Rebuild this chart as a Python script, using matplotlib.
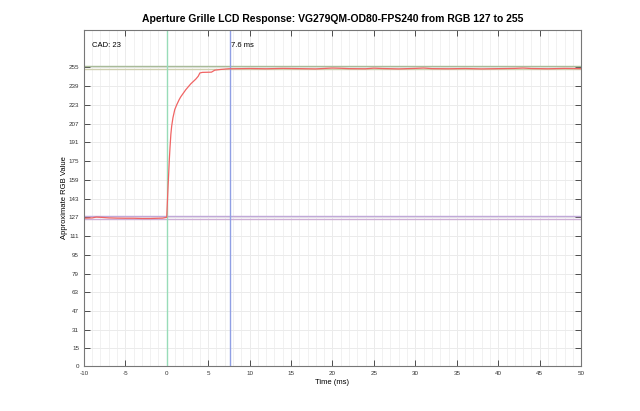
import numpy as np
import matplotlib
matplotlib.use("Agg")
import matplotlib.pyplot as plt
from matplotlib.ticker import MultipleLocator

plt.rcParams['font.family'] = ['Liberation Sans', 'DejaVu Sans']
plt.rcParams['axes.unicode_minus'] = False

# response trace (time in ms, approx RGB value)
time_ms = [-10, -9, -8.5, -8, -7, -6, -5, -4, -3, -2, -1, -0.5, 0, 0.08, 0.16, 0.24, 0.32, 0.4,
           0.5, 0.6, 0.75, 0.97, 1.2, 1.5, 1.7, 2.0, 2.3, 2.6, 2.9, 3.2, 3.5, 3.8, 4.0, 4.3,
           5.4, 5.8, 6.5, 7.5, 9, 10, 12, 14, 16, 18, 20, 21, 22, 24, 25, 26, 28, 30, 31, 32,
           34, 36, 38, 40, 42, 43, 44, 46, 48, 50]
rgb_value = [126.2, 126.5, 127.2, 127.0, 126.5, 126.3, 126.2, 126.2, 126.0, 126.0, 126.2, 126.3,
             127, 140, 153, 165, 177, 187, 198, 205, 212, 219, 223, 227.5, 230, 233, 236,
             238.5, 241, 243, 245, 247.5, 250.3, 250.8, 251, 252.7, 253.3, 253.9, 254, 254.1,
             253.9, 254.2, 254, 253.8, 254.5, 254.3, 254, 253.9, 254.4, 254.1, 253.8, 254.2,
             254.5, 254, 253.9, 254.1, 253.8, 254.0, 254.2, 254.5, 254.1, 253.9, 254.2, 254.0]

# tolerance lines around start / end levels
end_band = [253.6, 256.2]
start_band = [125.8, 128.2]
start_time = 0
end_time = 7.6
cad = 23

y_ticks = [0, 15, 31, 47, 63, 79, 95, 111, 127, 143, 159, 175, 191, 207, 223, 239, 255]
x_ticks = list(range(-10, 51, 5))

fig = plt.figure(figsize=(6.4, 4.11), dpi=100)
ax = fig.add_axes([0.131, 0.1095, 0.777, 0.8175])

ax.axhline(end_band[1], color="#a8bb98", lw=1)
ax.axhline(end_band[0], color="#cfcfb0", lw=1)
ax.axhline(start_band[1], color="#c0a8d8", lw=1)
ax.axhline(start_band[0], color="#cdb0d5", lw=1)
ax.axvline(start_time, color="#98dcb8", lw=1)
ax.axvline(end_time, color="#909fe4", lw=1)
ax.plot(time_ms, rgb_value, color="#f06464", lw=0.9)

ax.text(-9, 274, "CAD: %d" % cad, fontsize=5.5, va="center")
ax.text(end_time + 0.2, 274, "%.1f ms" % end_time, fontsize=5.5, va="center")

ax.set_xlim(-10, 50)
ax.set_ylim(0, 287)
ax.set_xticks(x_ticks)
ax.set_yticks(y_ticks)
ax.xaxis.set_minor_locator(MultipleLocator(1))
ax.grid(True, which="major", color="#ebebeb", lw=0.7)
ax.grid(True, which="minor", axis="x", color="#efefef", lw=0.6)
ax.set_axisbelow(True)
ax.tick_params(which="both", direction="in", top=True, right=True, labelsize=4.5,
               colors="#333333", length=4, width=0.6)
ax.tick_params(which="minor", length=0)
for sp in ax.spines.values():
    sp.set_color("#777777")
    sp.set_linewidth(0.8)

ax.set_xlabel("Time (ms)", fontsize=5.5, labelpad=2)
ax.set_ylabel("Approximate RGB Value", fontsize=5.5, labelpad=0)
ax.set_title("Aperture Grille LCD Response: VG279QM-OD80-FPS240 from RGB 127 to 255",
             fontsize=7.5, fontweight="bold", pad=6)

fig.savefig("out.png", dpi=100)
